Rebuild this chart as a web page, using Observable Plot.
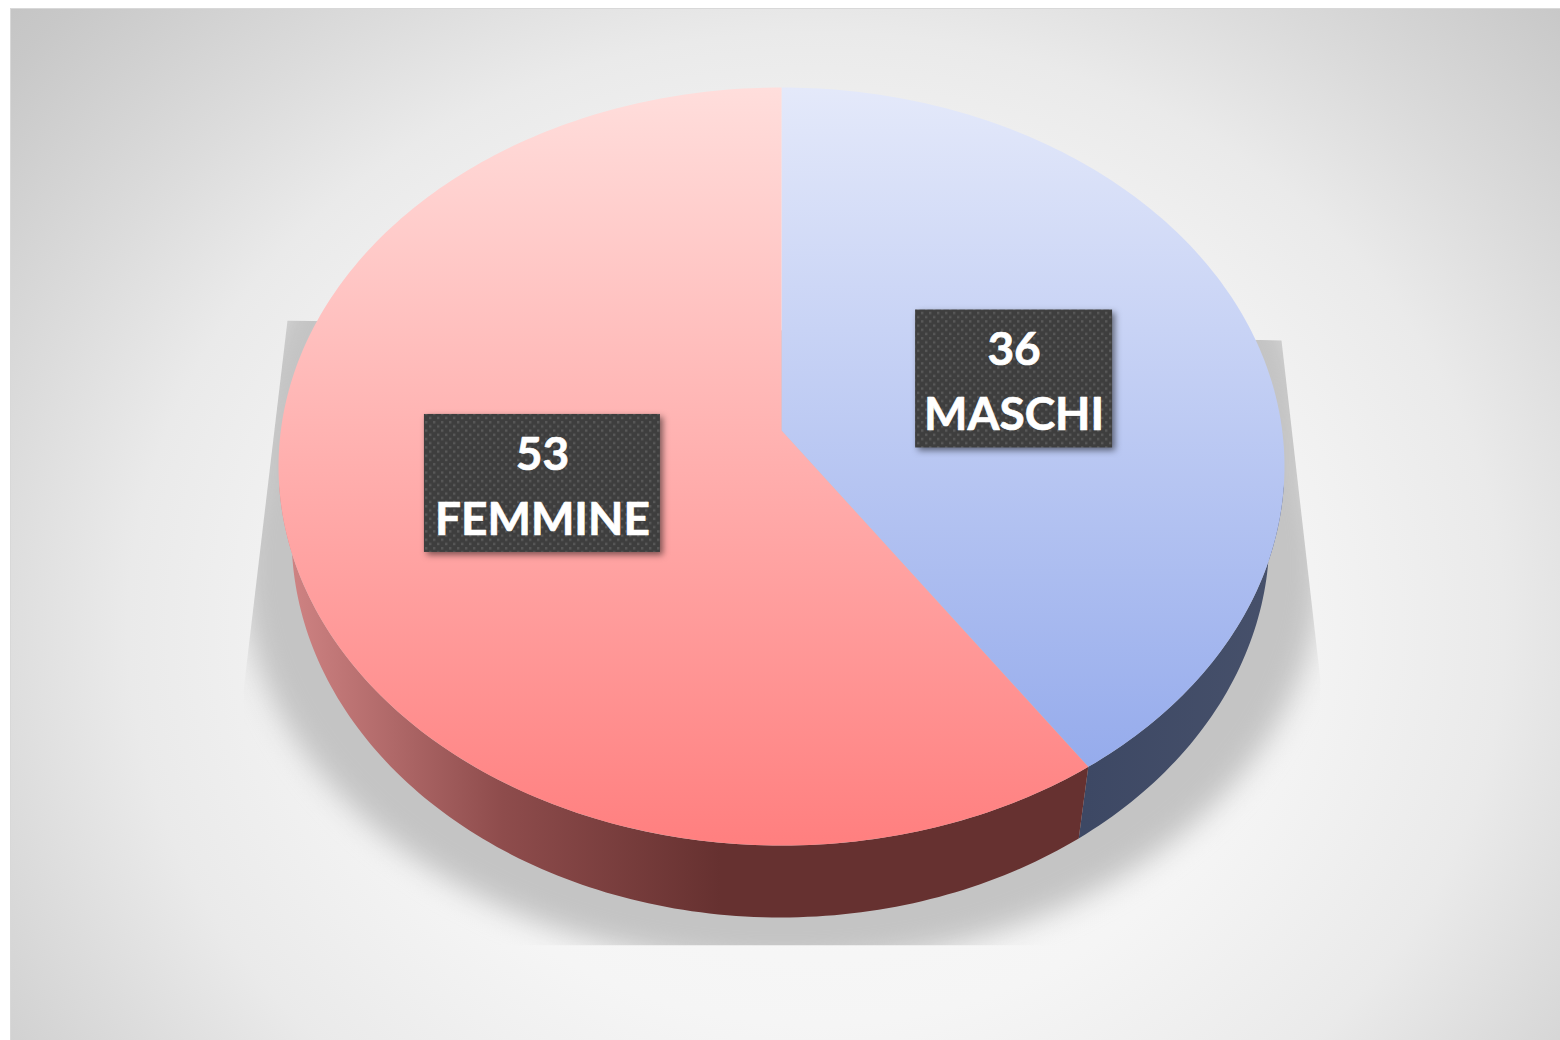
<!DOCTYPE html>
<html>
<head>
<meta charset="utf-8">
<script src="https://cdn.jsdelivr.net/npm/d3@7"></script>
<script src="https://cdn.jsdelivr.net/npm/@observablehq/plot@0.6"></script>
<style>
html,body{margin:0;padding:0;background:#fff}
svg{display:block}
</style>
</head>
<body>
<div id="chart"></div>
<script>
const categories = ["MASCHI", "FEMMINE"];
const values = [36, 53];

// perspective disc
const k = 0.095, labelRadius = 0.49;
const wall = {sx: 0.972, dx: -0.002, sy: 1.005, drop: 0.186};
const frontStart = 98 * Math.PI / 180, frontEnd = 262 * Math.PI / 180;
const proj = (t, r = 1) => {
  const u = r * Math.sin(t), v = r * Math.cos(t), w = 1 + k * v;
  return {x: u / w, y: v / w};
};
const arc = (a0, a1) => {
  const n = Math.max(8, Math.ceil((a1 - a0) * 60));
  return d3.range(n + 1).map(i => proj(a0 + (a1 - a0) * i / n));
};
const slices = d3.pie().sort(null)(values).map((p, i) => ({
  name: categories[i], value: values[i], a0: p.startAngle, a1: p.endAngle
}));
const topShape = s => [proj(0, 0), ...arc(s.a0, s.a1), proj(0, 0)];
const wallShape = s => {
  const rim = arc(Math.max(s.a0, frontStart), Math.min(s.a1, frontEnd));
  const foot = rim.map(p => ({x: p.x * wall.sx + wall.dx, y: p.y * wall.sy - wall.drop}));
  return [...rim, ...foot.reverse()];
};
const pxX = 500.7, pxY = 375.6, boxH = 138;
const ellipse = (id, cx, cy, rx, ry) => d3.range(121).map(i => {
  const t = i / 120 * 2 * Math.PI;
  return {id, x: (cx + rx * Math.sin(t) - 781) / pxX, y: (430 - cy - ry * Math.cos(t)) / pxY};
});
const shadow = [...ellipse("low", 781, 565, 540, 400), ...ellipse("high", 781, 450, 530, 420)];
const boxW = {MASCHI: 197, FEMMINE: 236};
const labels = slices.map(s => {
  const c = proj((s.a0 + s.a1) / 2, labelRadius);
  const x = c.x * 1.006, y = c.y * 0.96;
  return {x, y, name: s.name, value: s.value,
    x1: x - boxW[s.name] / 2 / pxX, x2: x + boxW[s.name] / 2 / pxX,
    y1: y - boxH / 2 / pxY, y2: y + boxH / 2 / pxY,
    text: s.value + "\n" + s.name};
});
const fills = {MASCHI: ["url(#topBlue)", "url(#wallBlue)"], FEMMINE: ["url(#topRed)", "url(#wallRed)"]};

const defs = () => {
  const d = d3.create("svg:defs");
  d.html(`
  <radialGradient id="bg" cx="0.52" cy="0.6" r="0.74" gradientTransform="translate(0.52 0.6) scale(1 1.3) translate(-0.52 -0.6)">
    <stop offset="0" stop-color="#fbfbfb"/><stop offset="0.4" stop-color="#f5f5f5"/>
    <stop offset="0.6" stop-color="#eaeaea"/><stop offset="0.72" stop-color="#dcdcdc"/>
    <stop offset="0.9" stop-color="#c8c8c8"/><stop offset="1" stop-color="#c0c0c0"/>
  </radialGradient>
  <linearGradient id="topRed" gradientUnits="userSpaceOnUse" x1="0" y1="87" x2="0" y2="845">
    <stop offset="0" stop-color="#ffdedc"/><stop offset="1" stop-color="#ff7f7f"/>
  </linearGradient>
  <linearGradient id="topBlue" gradientUnits="userSpaceOnUse" x1="0" y1="87" x2="0" y2="770">
    <stop offset="0" stop-color="#e4e9fa"/><stop offset="1" stop-color="#95abec"/>
  </linearGradient>
  <linearGradient id="wallRed" gradientUnits="userSpaceOnUse" x1="285" y1="0" x2="720" y2="0">
    <stop offset="0" stop-color="#d08484"/><stop offset="0.5" stop-color="#8e4c4c"/><stop offset="1" stop-color="#663130"/>
  </linearGradient>
  <linearGradient id="wallBlue" gradientUnits="userSpaceOnUse" x1="1085" y1="0" x2="1285" y2="0">
    <stop offset="0" stop-color="#3d4864"/><stop offset="1" stop-color="#47516b"/>
  </linearGradient>
  <pattern id="dots" patternUnits="userSpaceOnUse" width="8" height="8.4">
    <rect width="8" height="8.4" fill="#3e3e3e"/>
    <rect x="1" y="1" width="2.4" height="2.4" fill="#585858"/>
    <rect x="5" y="5.2" width="2.4" height="2.4" fill="#585858"/>
  </pattern>
  <clipPath id="shadowClip"><polygon points="287,320 243,690 243,945 1320,945 1320,680 1281,340"/></clipPath>`);
  return d.node();
};

const clipped = (i, s, v, dim, c, next) => {
  const g = next(i, s, v, dim, c);
  g.setAttribute("clip-path", "url(#shadowClip)");
  return g;
};

const chart = Plot.plot({
  width: 1560, height: 1040,
  marginLeft: 10, marginTop: 8, marginRight: 0, marginBottom: 0,
  x: {axis: null, domain: [-1, 1], range: [280.3, 1281.7]},
  y: {axis: null, domain: [-1, 1], range: [805.6, 54.4]},
  marks: [
    defs,
    Plot.frame({fill: "url(#bg)", stroke: "#d8d8d8"}),
    Plot.line(shadow, {x: "x", y: "y", z: "id", fill: "#c4c4c4", stroke: "none", imageFilter: "blur(14px)", render: clipped}),
    ...slices.map(s => Plot.line(wallShape(s), {x: "x", y: "y", fill: fills[s.name][1], stroke: "none"})),
    ...slices.map(s => Plot.line(topShape(s), {x: "x", y: "y", fill: fills[s.name][0], stroke: "none"})),
    Plot.rect(labels, {x1: "x1", x2: "x2", y1: "y1", y2: "y2", fill: "url(#dots)",
      imageFilter: "drop-shadow(3px 3px 3px rgba(0,0,0,0.5))"}),
    Plot.text(labels, {x: "x", y: "y", dy: -2, text: "text", fill: "white", stroke: "white", strokeWidth: 0.7, fontFamily: "Lato",
      fontWeight: 700, fontSize: 46, lineHeight: 1.413})
  ]
});
document.getElementById("chart").appendChild(chart);
</script>
</body>
</html>
